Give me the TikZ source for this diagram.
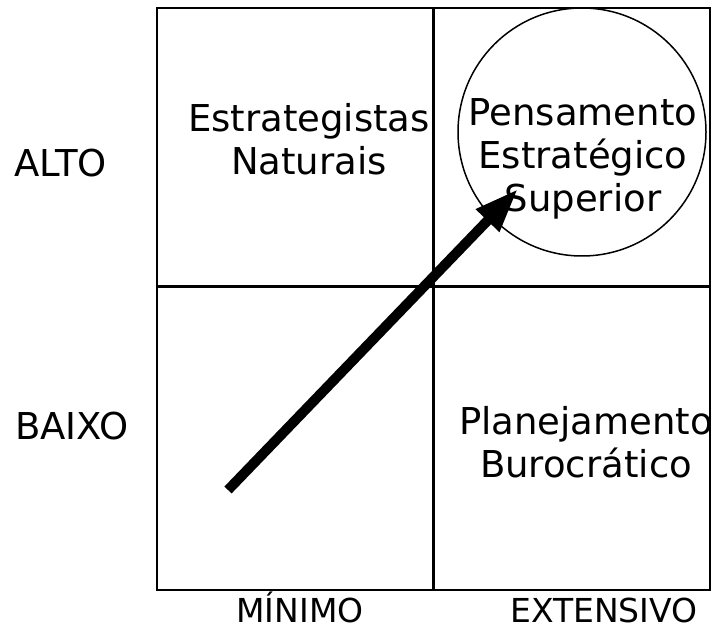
\documentclass[tikz,border=0pt]{standalone}
\usepackage{fontspec}
\setmainfont{DejaVu Sans}
\usetikzlibrary{arrows.meta}
\begin{document}
\begin{tikzpicture}[x=1pt,y=-1pt,
  lbl/.style={inner sep=0pt,font=\fontsize{37}{43}\selectfont,align=center,anchor=base},
  axislbl/.style={inner sep=0pt,font=\fontsize{33}{38}\selectfont,anchor=base,text depth=0pt},
  frame/.style={line width=2pt},
  divider/.style={line width=3pt}]
\useasboundingbox (0,0) rectangle (715,628);
\coordinate (tl) at (157,8);
\coordinate (br) at (710,590);
\coordinate (mt) at (433,8);
\coordinate (mb) at (433,590);
\coordinate (ml) at (157,287);
\coordinate (mr) at (710,287);
\draw[frame] (tl) rectangle (br);
\draw[divider] (mt) -- (mb);
\draw[divider] (ml) -- (mr);
\node[draw,circle,line width=1.5pt,minimum size=248pt,inner sep=0pt] (circ) at (582,132) {};
\node[lbl] (ee) at (309,175) {Estrategistas\\Naturais};
\node[lbl] (pes) at (583,212) {Pensamento\\Estratégico\\Superior};
\node[lbl] (pb) at (586,477) {Planejamento\\Burocrático};
\node[lbl,anchor=base west] (alto) at (14,177) {ALTO};
\node[lbl,anchor=base west] (baixo) at (15,439) {BAIXO};
\node[axislbl] (min) at (300,622) {MÍNIMO};
\node[axislbl] (ext) at (604,622) {EXTENSIVO};
\coordinate (a0) at (228,490);
\coordinate (a1) at (518,189);
\draw[line width=10pt,-{Triangle[length=44pt,width=30pt]}] (a0) -- (a1);
\end{tikzpicture}
\end{document}
